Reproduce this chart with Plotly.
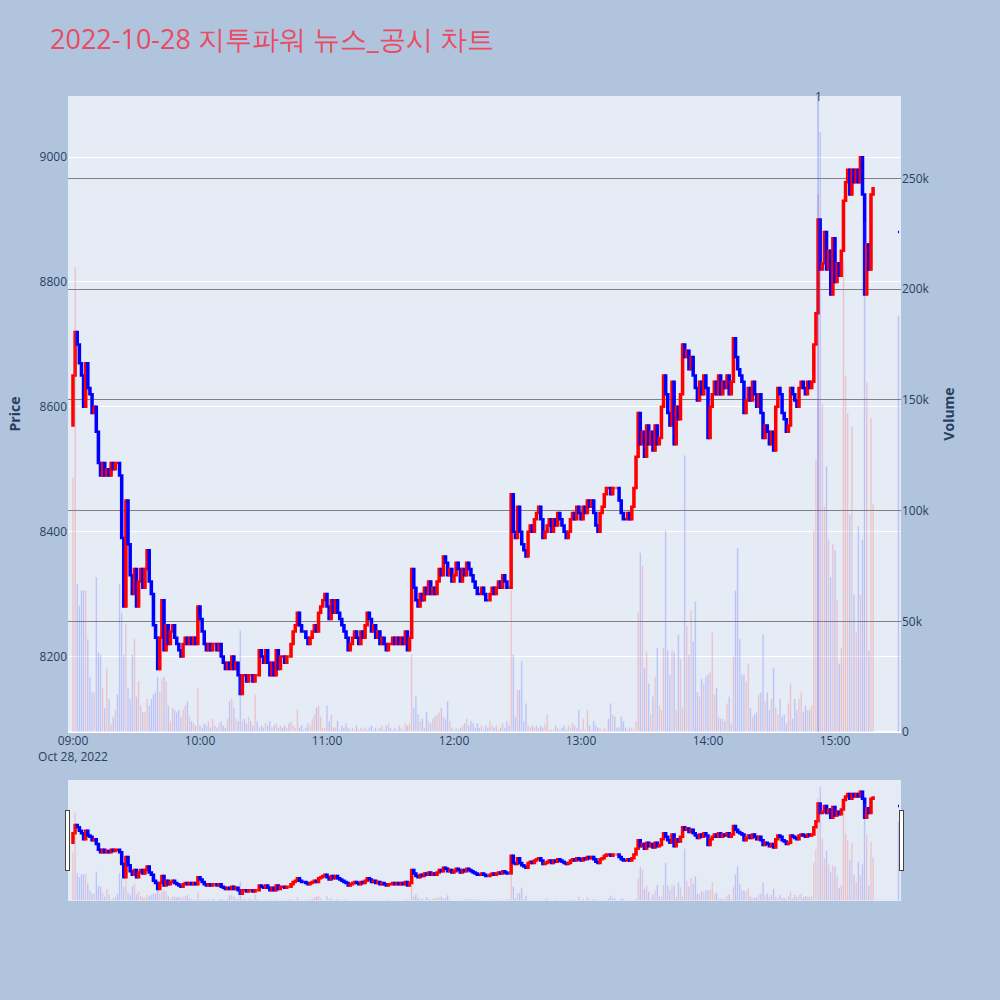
import pandas as pd
import plotly.graph_objects as go
from plotly.subplots import make_subplots

# 1-minute closes, 09:00 .. 15:18
first_open = 8570
closes = [
    8650, 8720, 8700, 8670, 8650, 8600, 8670, 8630, 8620, 8590,
    8600, 8560, 8510, 8490, 8510, 8490, 8500, 8490, 8510, 8500,
    8510, 8510, 8490, 8390, 8280, 8450, 8380, 8330, 8300, 8340,
    8280, 8320, 8340, 8310, 8340, 8370, 8320, 8300, 8250, 8230,
    8180, 8230, 8290, 8210, 8250, 8220, 8240, 8250, 8230, 8220,
    8210, 8200, 8220, 8230, 8220, 8230, 8220, 8230, 8220, 8280,
    8260, 8240, 8220, 8210, 8220, 8210, 8220, 8220, 8210, 8220,
    8200, 8190, 8180, 8190, 8180, 8200, 8180, 8190, 8170, 8140,
    8170, 8170, 8160, 8170, 8170, 8160, 8170, 8170, 8210, 8200,
    8190, 8210, 8190, 8170, 8190, 8170, 8210, 8180, 8200, 8200,
    8190, 8200, 8200, 8220, 8240, 8250, 8270, 8250, 8240, 8240,
    8230, 8220, 8230, 8240, 8250, 8240, 8270, 8280, 8290, 8300,
    8280, 8260, 8290, 8270, 8290, 8270, 8260, 8250, 8240, 8230,
    8210, 8220, 8230, 8240, 8230, 8220, 8240, 8230, 8250, 8270,
    8260, 8240, 8250, 8230, 8240, 8220, 8230, 8220, 8210, 8220,
    8220, 8230, 8220, 8230, 8220, 8230, 8220, 8240, 8210, 8230,
    8340, 8310, 8290, 8280, 8300, 8290, 8310, 8300, 8320, 8300,
    8310, 8300, 8320, 8340, 8330, 8360, 8350, 8330, 8340, 8320,
    8330, 8350, 8340, 8320, 8340, 8330, 8350, 8340, 8330, 8320,
    8310, 8300, 8300, 8310, 8300, 8290, 8290, 8300, 8310, 8300,
    8310, 8320, 8310, 8330, 8320, 8310, 8310, 8460, 8400, 8390,
    8440, 8400, 8380, 8370, 8360, 8400, 8410, 8400, 8420, 8430,
    8440, 8420, 8390, 8400, 8410, 8420, 8400, 8420, 8410, 8430,
    8420, 8410, 8400, 8390, 8400, 8420, 8430, 8420, 8440, 8430,
    8420, 8440, 8430, 8450, 8440, 8450, 8430, 8410, 8400, 8430,
    8440, 8460, 8470, 8470, 8460, 8470, 8470, 8470, 8450, 8430,
    8420, 8420, 8430, 8420, 8440, 8470, 8520, 8590, 8540, 8560,
    8520, 8570, 8540, 8560, 8530, 8570, 8540, 8550, 8600, 8650,
    8620, 8590, 8570, 8640, 8540, 8600, 8580, 8620, 8700, 8680,
    8690, 8660, 8680, 8650, 8630, 8610, 8640, 8620, 8650, 8630,
    8550, 8600, 8620, 8640, 8620, 8650, 8620, 8640, 8630, 8650,
    8620, 8640, 8710, 8680, 8660, 8650, 8640, 8590, 8610, 8630,
    8610, 8640, 8620, 8600, 8620, 8590, 8550, 8570, 8560, 8540,
    8560, 8530, 8600, 8630, 8620, 8590, 8580, 8560, 8570, 8630,
    8620, 8610, 8600, 8630, 8640, 8630, 8620, 8640, 8630, 8640,
    8700, 8750, 8900, 8820, 8830, 8880, 8820, 8850, 8780, 8870,
    8800, 8830, 8810, 8850, 8930, 8960, 8980, 8940, 8980, 8960,
    8980, 8960, 9000, 8940, 8780, 8860, 8820, 8940, 8950,
]

# volume in thousands of shares
volumes_k = [
    115, 210, 67, 57, 64, 64, 64, 42, 25, 18,
    18, 70, 36, 35, 20, 11, 29, 15, 4, 7,
    10, 17, 67, 54, 35, 49, 20, 15, 35, 42,
    16, 23, 12, 9, 9, 15, 12, 15, 17, 18,
    25, 18, 24, 25, 23, 12, 5, 11, 10, 9,
    10, 7, 10, 12, 14, 7, 5, 4, 3, 20,
    3, 2, 4, 3, 5, 2, 6, 3, 2, 4,
    5, 3, 2, 6, 14, 15, 11, 6, 5, 46,
    5, 6, 4, 7, 5, 3, 17, 5, 2, 3,
    2, 4, 3, 5, 2, 3, 4, 2, 3, 2,
    3, 2, 4, 5, 3, 2, 10, 2, 3, 1,
    2, 4, 3, 6, 8, 11, 12, 7, 2, 2,
    12, 5, 8, 2, 2, 5, 1, 3, 2, 4,
    2, 1, 2, 1, 3, 1, 2, 1, 2, 1,
    2, 3, 1, 2, 1, 2, 3, 1, 3, 4,
    2, 1, 2, 1, 3, 2, 1, 4, 3, 4,
    35, 11, 16, 8, 5, 6, 2, 9, 5, 4,
    6, 7, 8, 9, 11, 7, 6, 14, 5, 2,
    1, 2, 1, 2, 3, 4, 6, 3, 5, 4,
    2, 4, 2, 3, 1, 3, 2, 5, 3, 2,
    3, 1, 2, 4, 2, 5, 3, 64, 35, 7,
    19, 19, 32, 5, 13, 3, 2, 3, 2, 3,
    2, 3, 2, 4, 8, 1, 1, 1, 3, 2,
    1, 2, 3, 1, 3, 2, 4, 3, 2, 10,
    1, 6, 1, 10, 3, 1, 5, 3, 2, 2,
    1, 2, 1, 6, 13, 8, 7, 2, 2, 7,
    5, 2, 1, 2, 2, 1, 5, 54, 81, 75,
    29, 36, 22, 8, 16, 25, 38, 12, 10, 38,
    91, 37, 26, 37, 36, 10, 44, 33, 11, 125,
    48, 35, 55, 41, 59, 18, 16, 24, 22, 25,
    26, 27, 45, 17, 20, 7, 6, 6, 5, 13,
    16, 4, 34, 64, 83, 42, 26, 26, 23, 31,
    11, 7, 8, 9, 17, 18, 44, 14, 18, 10,
    15, 29, 11, 8, 15, 7, 8, 4, 13, 22,
    6, 15, 10, 15, 18, 9, 12, 10, 10, 12,
    91, 123, 243, 271, 148, 102, 120, 87, 70, 85,
    82, 60, 31, 38, 213, 161, 144, 98, 138, 62,
    45, 93, 62, 87, 230, 158, 37, 142, 103,
]

# closing auction print at 15:30
close_time = "2022-10-28 15:30"
close_price = 8880
close_volume_k = 188

news_time = "2022-10-28 14:52"
news_count = "1"

n = min(len(closes), len(volumes_k))
times = list(pd.date_range("2022-10-28 09:00", periods=n, freq="min")) + [pd.Timestamp(close_time)]

# open of each minute = previous minute's close
opens = [first_open] + closes[:n - 1] + [close_price]
cls = closes[:n] + [close_price]
highs = [max(o, c) for o, c in zip(opens, cls)]
lows = [min(o, c) for o, c in zip(opens, cls)]
vols = [v * 1000 for v in volumes_k[:n]] + [close_volume_k * 1000]
vol_colors = ['red' if c > o else 'blue' for o, c in zip(opens, cls)]

fig = make_subplots(specs=[[{"secondary_y": True}]])

fig.add_trace(go.Candlestick(
    x=times, open=opens, high=highs, low=lows, close=cls,
    increasing=dict(line=dict(color='red', width=2.5), fillcolor='red'),
    decreasing=dict(line=dict(color='blue', width=2.5), fillcolor='blue'),
    name='Price', showlegend=False
), secondary_y=False)

fig.add_trace(go.Bar(
    x=times, y=vols, marker_color=vol_colors, opacity=0.2,
    name='Volume', showlegend=False
), secondary_y=True)

# news marker
fig.add_shape(type='line', xref='x', yref='paper', x0=news_time, x1=news_time,
              y0=0, y1=1, line=dict(color='rgba(0,0,255,0.35)', width=1))
fig.add_annotation(x=news_time, y=1, xref='x', yref='paper', text=news_count,
                   showarrow=False, yanchor='middle', font=dict(size=12, color='#2a3f5f'))

x_range = ["2022-10-28 08:57:38", "2022-10-28 15:31:11"]

fig.update_layout(
    title=dict(text='2022-10-28 지투파워 뉴스_공시 차트', x=0.05, y=0.96, yanchor='middle',
               font=dict(size=27, color='#EB4A62')),
    width=1000, height=1000,
    paper_bgcolor='#B0C4DE',
    plot_bgcolor='#E5ECF6',
    margin=dict(l=68, r=99, t=96, b=100),
    showlegend=False,
    bargap=0.2,
    xaxis=dict(type='date', range=x_range, domain=[0, 1],
               rangeslider=dict(visible=True, range=x_range, bgcolor='#E5ECF6')),
)

fig.update_yaxes(title_text='<b>Price</b>', range=[8079, 9098], automargin=False,
                 secondary_y=False)
fig.update_yaxes(title_text='<b>Volume</b>', range=[0, 287300], gridcolor='grey',
                 automargin=False, secondary_y=True)

fig.write_html("out.html", config={'displayModeBar': False},
               post_script="document.body.style.margin='0';")
